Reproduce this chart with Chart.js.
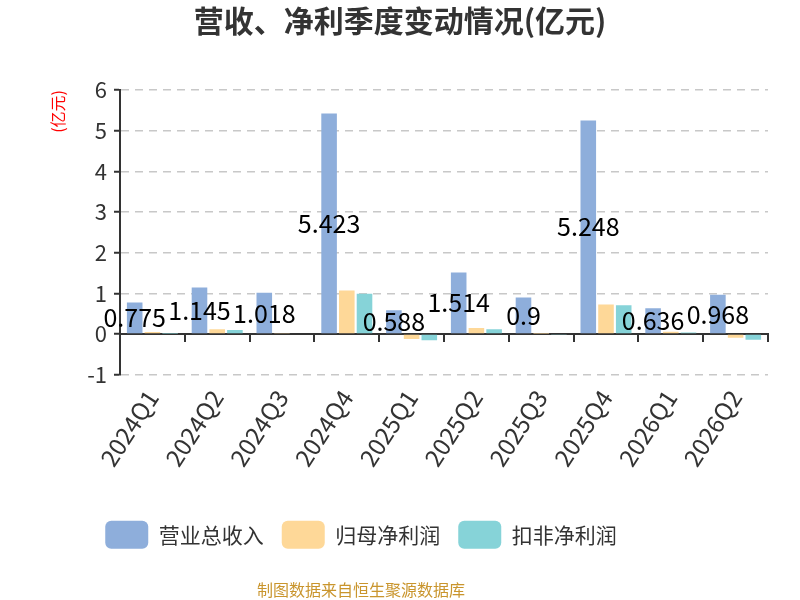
<!DOCTYPE html>
<html>
<head>
<meta charset="utf-8">
<script src="https://cdn.jsdelivr.net/npm/chart.js@4"></script>
<style>
  html, body { margin: 0; padding: 0; background: #fff; }
  #wrap { width: 800px; height: 600px; }
</style>
</head>
<body>
<div id="wrap"><canvas id="chart"></canvas></div>
<script>
// ==================== DATA ====================
const quarters = ['2024Q1', '2024Q2', '2024Q3', '2024Q4', '2025Q1', '2025Q2', '2025Q3', '2025Q4', '2026Q1', '2026Q2'];
const revenue = [0.775, 1.145, 1.018, 5.423, 0.588, 1.514, 0.9, 5.248, 0.636, 0.968];
const netProfit = [0.05, 0.12, 0.03, 1.07, -0.12, 0.15, 0.01, 0.73, 0.06, -0.09];
const deductedProfit = [0.01, 0.1, 0.0, 0.99, -0.15, 0.12, -0.02, 0.71, 0.04, -0.14];
const yTicks = [-1, 0, 1, 2, 3, 4, 5, 6];

const FONT = "'Noto Sans CJK SC', 'Noto Sans', sans-serif";
const SOURCE_TEXT = '制图数据来自恒生聚源数据库';

// Value labels drawn at the centre of the revenue bars
const barLabels = {
    id: 'barLabels',
    afterDatasetsDraw(chart) {
        const ctx = chart.ctx;
        const meta = chart.getDatasetMeta(0);
        ctx.save();
        ctx.font = '25px ' + FONT;
        ctx.fillStyle = '#000';
        ctx.textAlign = 'center';
        ctx.textBaseline = 'middle';
        meta.data.forEach((bar, i) => {
            const { x, y, base } = bar.getProps(['x', 'y', 'base'], true);
            ctx.fillText(String(revenue[i]), x, (y + base) / 2);
        });
        ctx.restore();
    }
};

// Legend and source line sit left of the canvas centre in the original
const bottomShift = {
    id: 'bottomShift',
    afterLayout(chart) {
        chart.boxes.forEach(box => {
            const isLegend = box === chart.legend;
            const isSource = box.options && box.options.text === SOURCE_TEXT;
            if (isLegend || isSource) {
                box.left -= 39;
                box.right -= 39;
            }
        });
    }
};

new Chart(document.getElementById('chart'), {
    type: 'bar',
    data: {
        labels: quarters,
        datasets: [{
            label: '营业总收入',
            data: revenue,
            backgroundColor: '#8eaedb'
        }, {
            label: '归母净利润',
            data: netProfit,
            backgroundColor: '#fed898'
        }, {
            label: '扣非净利润',
            data: deductedProfit,
            backgroundColor: '#86d3d8'
        }]
    },
    options: {
        responsive: true,
        maintainAspectRatio: false,
        animation: false,
        datasets: { bar: { categoryPercentage: 0.82, barPercentage: 0.88 } },
        layout: { padding: { left: 32, right: 32, top: 0, bottom: 0 } },
        plugins: {
            title: {
                display: true,
                text: '营收、净利季度变动情况(亿元)',
                color: '#333',
                font: { family: FONT, size: 30, weight: 'bold' },
                padding: { top: 3, bottom: 51 }
            },
            subtitle: {
                display: true,
                position: 'bottom',
                text: SOURCE_TEXT,
                color: '#c9952d',
                font: { family: FONT, size: 16 },
                padding: { top: 22, bottom: 0 }
            },
            legend: {
                position: 'bottom',
                labels: {
                    color: '#333',
                    font: { family: FONT, size: 21 },
                    boxWidth: 43,
                    boxHeight: 28,
                    useBorderRadius: true,
                    borderRadius: 6,
                    padding: 18
                }
            },
            tooltip: { enabled: false }
        },
        scales: {
            x: {
                grid: { display: false },
                border: { display: false },
                afterFit: (scale) => { scale.height = 128; },
                ticks: {
                    color: '#333',
                    font: { family: FONT, size: 24 },
                    minRotation: 57,
                    maxRotation: 57,
                    padding: 2
                }
            },
            x2: {
                type: 'category',
                labels: quarters,
                position: { y: 0 },
                offset: true,
                grid: {
                    display: true,
                    offset: true,
                    drawOnChartArea: false,
                    color: '#333',
                    lineWidth: 2,
                    tickLength: 7
                },
                border: { display: true, color: '#333', width: 2 },
                ticks: { display: false }
            },
            y: {
                min: -1,
                max: 6,
                afterBuildTicks: (scale) => {
                    scale.ticks = yTicks.map(v => ({ value: v }));
                },
                afterFit: (scale) => { scale.width = 88; },
                ticks: {
                    color: '#333',
                    font: { family: FONT, size: 22 },
                    padding: 7
                },
                grid: {
                    color: '#c8c8c8',
                    lineWidth: 1.5,
                    tickColor: '#333',
                    tickLength: 6,
                    tickWidth: 2
                },
                border: { color: '#333', width: 2, dash: [8, 6] },
                title: {
                    display: true,
                    text: '(亿元)',
                    align: 'end',
                    color: '#ff0000',
                    font: { family: FONT, size: 16 },
                    padding: { top: 16, bottom: 0 }
                }
            }
        }
    },
    plugins: [barLabels, bottomShift]
});
</script>
</body>
</html>
